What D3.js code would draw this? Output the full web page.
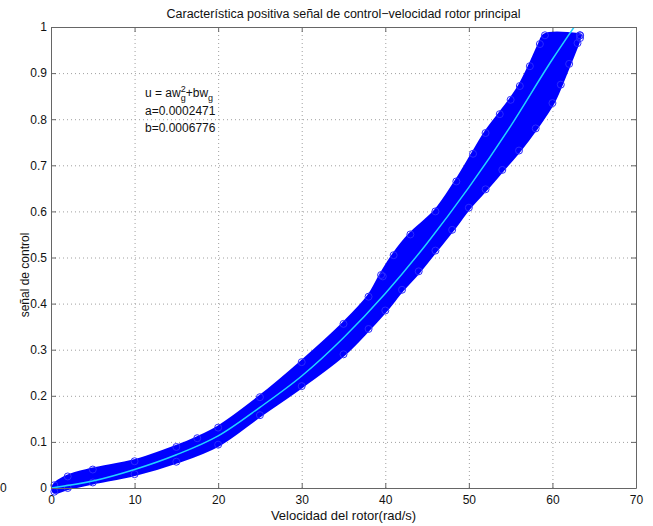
<!DOCTYPE html>
<html lang="es">
<head>
<meta charset="UTF-8">
<script src="https://d3js.org/d3.v7.min.js"></script>
<title>Característica positiva</title>
<style>
body { margin: 0; background: #fff; }
text { font-family: "Liberation Sans", Arial, sans-serif; fill: #111; }
.grid line { stroke: #a0a0a0; stroke-dasharray: 1,3; }
.grid path { display: none; }
.ax path, .ax line { stroke: #666; }
</style>
</head>
<body>
<div id="chart"></div>
<script>
// tick labels
const xTicks = [0, 10, 20, 30, 40, 50, 60, 70];
const yTicks = [0, 0.1, 0.2, 0.3, 0.4, 0.5, 0.6, 0.7, 0.8, 0.9, 1];

// edge of the point cloud (upper side, low to high w)
const upperW = [0.4, 2, 5, 10, 15, 17.5, 20, 25, 30, 35, 38, 39.5, 41, 43, 46, 48.5, 50.5, 52, 53.7, 55, 56.1, 57.3, 58.5, 59.1, 63.3];
const upperU = [0.006, 0.025, 0.040, 0.058, 0.089, 0.108, 0.131, 0.197, 0.273, 0.356, 0.415, 0.462, 0.505, 0.550, 0.600, 0.665, 0.725, 0.770, 0.811, 0.842, 0.872, 0.915, 0.963, 0.982, 0.982];
// lower side, high to low w
const lowerW = [63.3, 63, 62, 61, 60, 58, 56, 54, 52, 50, 48, 46, 44, 42, 40, 38, 35, 30, 25, 20, 15, 10, 5, 2, 0.4];
const lowerU = [0.982, 0.965, 0.920, 0.875, 0.835, 0.780, 0.732, 0.690, 0.648, 0.608, 0.560, 0.515, 0.470, 0.430, 0.385, 0.345, 0.290, 0.221, 0.158, 0.094, 0.057, 0.030, 0.012, 0.000, -0.008];
// stray points
const outW = [39.7, 63.3];
const outU = [0.459, 0.976];

// fitted curve
const fitW = [0, 5, 10, 15, 20, 25, 30, 35, 40, 45, 50, 55, 60, 62.6];
const fitU = [0, 0.015, 0.040, 0.072, 0.113, 0.175, 0.243, 0.326, 0.422, 0.531, 0.652, 0.785, 0.930, 1.0];

const width = 653, height = 526;
const pL = 51, pR = 636, pT = 27, pB = 488;

const svg = d3.select('#chart').append('svg')
  .attr('width', width).attr('height', height);

const x = d3.scaleLinear().domain([0, 70]).range([pL, pR]);
const y = d3.scaleLinear().domain([0, 1]).range([pB, pT]);

svg.append('defs').append('clipPath').attr('id', 'clip')
  .append('rect').attr('x', pL).attr('y', pT).attr('width', pR - pL).attr('height', pB - pT);

// grid
svg.append('g').attr('class', 'grid')
  .attr('transform', `translate(0,${pB})`)
  .call(d3.axisBottom(x).tickValues(xTicks.slice(1, -1)).tickSize(-(pB - pT)).tickFormat(''));
svg.append('g').attr('class', 'grid')
  .attr('transform', `translate(${pL},0)`)
  .call(d3.axisLeft(y).tickValues(yTicks.slice(1, -1)).tickSize(-(pR - pL)).tickFormat(''));

// point cloud
const cloud = upperW.map((w, i) => [w, upperU[i]])
  .concat(lowerW.map((w, i) => [w, lowerU[i]]));
const line = d3.line().x(d => x(d[0])).y(d => y(d[1]));

svg.append('path')
  .attr('d', line.curve(d3.curveCatmullRomClosed)(cloud))
  .attr('fill', '#0000ff')
  .attr('stroke', '#0000ff')
  .attr('stroke-width', 4)
  .attr('stroke-linejoin', 'round');

svg.selectAll('.pt')
  .data(cloud.concat(outW.map((w, i) => [w, outU[i]])))
  .enter().append('circle')
  .attr('cx', d => x(d[0]))
  .attr('cy', d => y(d[1]))
  .attr('r', 3.5)
  .attr('fill', 'none')
  .attr('stroke', '#2a2aff')
  .attr('stroke-width', 1);

// fit
svg.append('path')
  .attr('clip-path', 'url(#clip)')
  .attr('d', d3.line().x(d => x(d[0])).y(d => y(d[1])).curve(d3.curveMonotoneX)(fitW.map((w, i) => [w, fitU[i]])))
  .attr('fill', 'none')
  .attr('stroke', '#22d2ff')
  .attr('stroke-width', 1.5);

// axes (ticks pointing inward on all four sides)
svg.append('g').attr('class', 'ax')
  .attr('transform', `translate(0,${pB})`)
  .call(d3.axisBottom(x).tickValues(xTicks).tickSizeInner(-5).tickSizeOuter(0).tickPadding(7));
svg.append('g').attr('class', 'ax')
  .attr('transform', `translate(${pL},0)`)
  .call(d3.axisLeft(y).tickValues(yTicks).tickSizeInner(-5).tickSizeOuter(0).tickPadding(4)
    .tickFormat(d => d === 0 || d === 1 ? d3.format('d')(d) : d3.format('.1f')(d)));
svg.append('g').attr('class', 'ax')
  .attr('transform', `translate(0,${pT})`)
  .call(d3.axisTop(x).tickValues(xTicks).tickSizeInner(-5).tickSizeOuter(0).tickFormat(''));
svg.append('g').attr('class', 'ax')
  .attr('transform', `translate(${pR},0)`)
  .call(d3.axisRight(y).tickValues(yTicks).tickSizeInner(-5).tickSizeOuter(0).tickFormat(''));

svg.selectAll('.ax text').style('font-size', '12px').style('font-family', '"Liberation Sans", Arial, sans-serif').attr('fill', '#111');

// title and labels
svg.append('text')
  .attr('x', (pL + pR) / 2).attr('y', 18)
  .attr('text-anchor', 'middle').style('font-size', '12.5px')
  .text('Característica positiva señal de control−velocidad rotor principal');

svg.append('text')
  .attr('x', (pL + pR) / 2).attr('y', 520)
  .attr('text-anchor', 'middle').style('font-size', '13px')
  .text('Velocidad del rotor(rad/s)');

svg.append('text')
  .attr('transform', 'translate(29,275) rotate(-90)')
  .attr('text-anchor', 'middle').style('font-size', '12px')
  .text('señal de control');

svg.append('text')
  .attr('x', 0).attr('y', 492).style('font-size', '12px').text('0');

// formula annotation
const note = svg.append('g').style('font-size', '12px');
const t1 = note.append('text').attr('x', 145).attr('y', 97);
t1.append('tspan').text('u = aw');
t1.append('tspan').attr('dy', -5).style('font-size', '9px').text('2');
t1.append('tspan').attr('dx', -5).attr('dy', 9).style('font-size', '9px').text('g');
t1.append('tspan').attr('dy', -4).text('+bw');
t1.append('tspan').attr('dy', 4).style('font-size', '9px').text('g');
note.append('text').attr('x', 145).attr('y', 115).text('a=0.0002471');
note.append('text').attr('x', 145).attr('y', 132).text('b=0.0006776');
</script>
</body>
</html>
